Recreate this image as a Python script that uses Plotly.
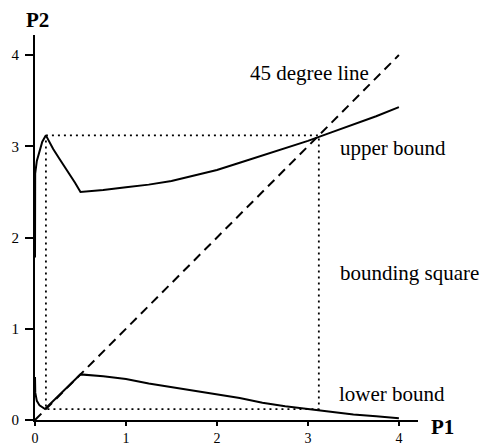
import plotly.graph_objects as go

# Upper bound curve (P1, P2)
upper_x = [0.0, 0.002, 0.02, 0.05, 0.08, 0.12, 0.16, 0.2, 0.27, 0.33, 0.38, 0.44, 0.5,
           0.75, 1.0, 1.25, 1.5, 1.75, 2.0, 2.25, 2.5, 2.75, 3.0, 3.25, 3.5, 3.75, 4.0]
upper_y = [1.78, 2.70, 2.84, 2.96, 3.05, 3.12, 3.04, 2.97, 2.86, 2.77, 2.70, 2.60, 2.50,
           2.52, 2.55, 2.58, 2.62, 2.68, 2.74, 2.82, 2.90, 2.98, 3.06, 3.15, 3.24, 3.33, 3.43]

# Lower bound curve
lower_x = [0.0, 0.003, 0.02, 0.05, 0.11, 0.5, 0.75, 1.0, 1.25, 1.5, 1.75, 2.0, 2.25,
           2.5, 2.75, 3.0, 3.25, 3.5, 3.75, 4.0]
lower_y = [0.47, 0.30, 0.21, 0.16, 0.12, 0.50, 0.48, 0.45, 0.40, 0.36, 0.32, 0.28, 0.24,
           0.19, 0.15, 0.12, 0.09, 0.06, 0.04, 0.02]

# 45 degree line
diag_x = [0.0, 4.0]
diag_y = [0.0, 4.0]

# Bounding square corners
sq_lo = 0.12
sq_hi = 3.12
square_x = [sq_lo, sq_hi, sq_hi, sq_lo, sq_lo]
square_y = [sq_hi, sq_hi, sq_lo, sq_lo, sq_hi]

ticks = [0, 1, 2, 3, 4]
tick_text = ["0", "1", "2", "3", "4"]

FONT = "Liberation Serif, Times New Roman, serif"

W, H = 481, 447
ml, mr, mt, mb = 35, 63, 35, 27
pw, ph = W - ml - mr, H - mt - mb

fig = go.Figure()
fig.add_trace(go.Scatter(x=square_x, y=square_y, mode="lines",
                         line=dict(color="black", width=1.8, dash="2px,4px"),
                         hoverinfo="skip"))
fig.add_trace(go.Scatter(x=diag_x, y=diag_y, mode="lines",
                         line=dict(color="black", width=2, dash="9px,6px"),
                         hoverinfo="skip"))
fig.add_trace(go.Scatter(x=upper_x, y=upper_y, mode="lines",
                         line=dict(color="black", width=2)))
fig.add_trace(go.Scatter(x=lower_x, y=lower_y, mode="lines",
                         line=dict(color="black", width=2)))

labels = [
    ("45 degree line", 2.34, 3.80),
    ("upper bound", 3.33, 2.98),
    ("bounding square", 3.33, 1.61),
    ("lower bound", 3.32, 0.28),
]
for txt, x, y in labels:
    fig.add_annotation(x=x, y=y, text=txt, showarrow=False, xanchor="left", yanchor="middle",
                       font=dict(family=FONT, size=21, color="black"))

def px_to_paper(px, py):
    return (px - ml) / pw, (H - py - mb) / ph

for txt, px, py in [("<b>P1</b>", 442, 427), ("<b>P2</b>", 37, 20)]:
    xp, yp = px_to_paper(px, py)
    fig.add_annotation(x=xp, y=yp, xref="paper", yref="paper", text=txt, showarrow=False,
                       xanchor="center", yanchor="middle",
                       font=dict(family=FONT, size=21, color="black"))

fig.update_layout(
    width=W, height=H,
    margin=dict(l=ml, r=mr, t=mt, b=mb, autoexpand=False),
    plot_bgcolor="white", paper_bgcolor="white",
    showlegend=False,
    font=dict(family=FONT, color="black"),
)
fig.update_xaxes(range=[0, 4.21], showgrid=False, zeroline=False, showline=True,
                 linecolor="black", linewidth=2, ticks="outside", ticklen=4, tickwidth=1.5,
                 tickcolor="black", tickvals=ticks, ticktext=tick_text,
                 automargin=False,
                 tickfont=dict(family=FONT, size=14, color="black"))
fig.update_yaxes(range=[0, 4.22], showgrid=False, zeroline=False, showline=True,
                 linecolor="black", linewidth=2, ticks="outside", ticklen=8, tickwidth=1.5,
                 tickcolor="black", tickvals=ticks, ticktext=tick_text, ticklabelstandoff=3,
                 automargin=False,
                 tickfont=dict(family=FONT, size=15, color="black"))

fig.write_html("out.html")
